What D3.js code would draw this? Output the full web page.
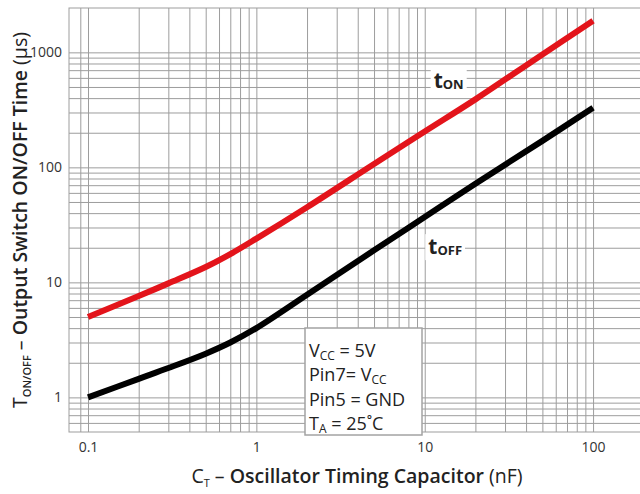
<!DOCTYPE html>
<html>
<head>
<meta charset="utf-8">
<script src="https://cdn.jsdelivr.net/npm/d3@7"></script>
<style>
  body { margin: 0; background: #fff; }
  svg text { font-family: "Open Sans", sans-serif; fill: #222; }
  .grid line { stroke: #9d9d9d; stroke-width: 1; }
  .grid path { display: none; }
  .tickLabels path, .tickLabels line { display: none; }
  .tickLabels text { font-size: 14px; fill: #333; }
  .axisLabel { font-size: 19.5px; }
  .note { font-size: 18px; }
  .curveLabel { font-size: 21px; font-weight: 700; }
</style>
</head>
<body>
<svg class="chart"></svg>
<script>
// C_T in nF, times in microseconds
var capValues = [0.1, 0.2, 0.3, 0.5, 0.7, 1, 2, 5, 10, 20, 50, 100];
var onTimes   = [5.0, 7.6, 9.8, 13.6, 17.6, 24, 45, 107, 205, 390, 960, 1880];
var offTimes  = [1.0, 1.45, 1.8, 2.4, 3.0, 4.0, 7.8, 19, 37, 72, 170, 330];

var xTickLabels = [0.1, 1, 10, 100];
var yTickLabels = [1, 10, 100, 1000];

var noteLines = [["V", "CC", " = 5V"], ["Pin7= V", "CC", ""], ["Pin5 = GND", "", ""], ["T", "A", " = 25\u02DAC"]];

var svgWidth = 640;
var svgHeight = 494;
var margin = {top: 8, right: 0, bottom: 62, left: 69};
var chartWidth = svgWidth - margin.left - margin.right;
var chartHeight = svgHeight - margin.top - margin.bottom;

var x = d3.scaleLog().domain([0.0771, 190]).range([0, chartWidth]);
var y = d3.scaleLog().domain([0.5, 2430]).range([chartHeight, 0]);

var svg = d3.select(".chart")
            .attr("width", svgWidth)
            .attr("height", svgHeight);
var chart = svg.append("g")
               .attr("transform", "translate(" + margin.left + "," + margin.top + ")");

// 1..9 per decade, the way the datasheet grid is ruled
function decadeSteps(lo, hi) {
  var out = [];
  for (var p = -2; p <= 3; p++) {
    for (var m = 1; m <= 9; m++) {
      var v = +(m * Math.pow(10, p)).toPrecision(3);
      if (v >= lo && v <= hi) out.push(v);
    }
  }
  return out;
}

function buildGrid() {
  chart.append("g")
       .attr("class", "grid")
       .attr("transform", "translate(0," + chartHeight + ")")
       .call(d3.axisBottom(x).tickValues(decadeSteps(0.09, 100)).tickSize(-chartHeight).tickFormat(""));
  chart.append("g")
       .attr("class", "grid")
       .call(d3.axisLeft(y).tickValues(decadeSteps(0.6, 1000)).tickSize(-chartWidth).tickFormat(""));
  chart.append("rect")
       .attr("width", chartWidth + 2)
       .attr("height", chartHeight)
       .attr("fill", "none")
       .attr("stroke", "#9d9d9d");
}

function buildXAxis() {
  chart.append("g")
       .attr("class", "tickLabels")
       .attr("transform", "translate(0," + chartHeight + ")")
       .call(d3.axisBottom(x).tickValues(xTickLabels).tickSize(0).tickPadding(10).tickFormat(d3.format("")));

  var t = chart.append("text")
               .attr("class", "axisLabel")
               .attr("x", 288)
               .attr("y", chartHeight + 51)
               .attr("text-anchor", "middle");
  t.append("tspan").text("C");
  t.append("tspan").attr("font-size", "11px").attr("dy", 4).text("T");
  t.append("tspan").attr("dy", -4).text(" \u2013 ");
  t.append("tspan").attr("font-weight", 600).text("Oscillator Timing Capacitor");
  t.append("tspan").text(" (nF)");
}

function buildYAxis() {
  chart.append("g")
       .attr("class", "tickLabels")
       .call(d3.axisLeft(y).tickValues(yTickLabels).tickSize(0).tickPadding(7).tickFormat(d3.format("")));

  var t = chart.append("text")
               .attr("class", "axisLabel")
               .attr("transform", "translate(" + (27 - margin.left) + "," + (212) + ") rotate(-90)")
               .attr("text-anchor", "middle");
  t.append("tspan").text("T");
  t.append("tspan").attr("font-size", "11px").attr("dy", 4).attr("font-weight", 600).text("ON/OFF");
  t.append("tspan").attr("dy", -4).text(" \u2013 ");
  t.append("tspan").attr("font-weight", 600).text("Output Switch ON/OFF Time");
  t.append("tspan").text(" (\u00B5s)");
}

function buildCurves() {
  var line = d3.line()
               .x(function(d) { return x(d[0]); })
               .y(function(d) { return y(d[1]); })
               .curve(d3.curveCatmullRom.alpha(0.5));

  chart.append("path")
       .datum(d3.zip(capValues, offTimes))
       .attr("d", line)
       .attr("fill", "none")
       .attr("stroke", "#000")
       .attr("stroke-width", 6);

  chart.append("path")
       .datum(d3.zip(capValues, onTimes))
       .attr("d", line)
       .attr("fill", "none")
       .attr("stroke", "#e3141b")
       .attr("stroke-width", 6);
}

function curveLabel(c, v, sub) {
  var g = chart.append("g");
  var bg = g.append("rect").attr("fill", "#fff");
  var t = g.append("text")
           .attr("class", "curveLabel")
           .attr("x", x(c))
           .attr("y", y(v));
  t.append("tspan").text("t");
  t.append("tspan").attr("font-size", "13px").attr("dy", 1).text(sub);
  var b = t.node().getBBox();
  bg.attr("x", b.x - 3).attr("y", b.y + 2).attr("width", b.width + 6).attr("height", b.height - 2);
}

function buildNote() {
  var g = chart.append("g").attr("transform", "translate(" + (305 - margin.left) + "," + (328 - margin.top) + ")");
  g.append("rect")
   .attr("width", 117)
   .attr("height", 107)
   .attr("fill", "#fff")
   .attr("stroke", "#a3a3a3")
   .attr("stroke-width", 1.5);
  noteLines.forEach(function(d, i) {
    var t = g.append("text")
             .attr("class", "note")
             .attr("x", 4)
             .attr("y", 29 + i * 24.3);
    t.append("tspan").text(d[0]);
    if (d[1]) t.append("tspan").attr("font-size", "12px").attr("dy", 3).text(d[1]);
    if (d[2]) t.append("tspan").attr("dy", -3).text(d[2]);
  });
}

buildGrid();
buildCurves();
curveLabel(11.3, 490, "ON");
curveLabel(10.5, 17.6, "OFF");
buildNote();
buildXAxis();
buildYAxis();
</script>
</body>
</html>
